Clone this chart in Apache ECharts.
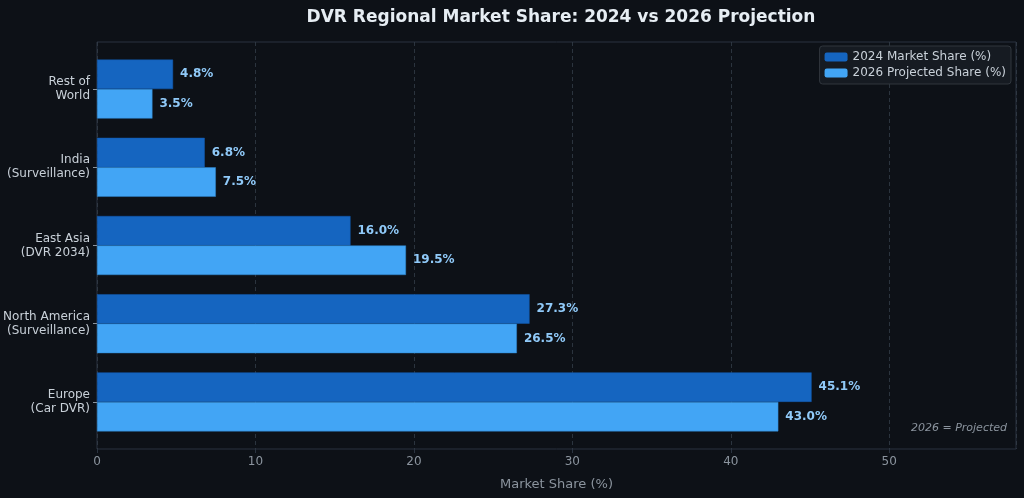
<!DOCTYPE html>
<html>
<head>
<meta charset="utf-8">
<script src="https://cdn.jsdelivr.net/npm/echarts@6/dist/echarts.min.js"></script>
<style>
  html, body { margin: 0; padding: 0; background: #0d1117; }
  #chart { width: 1024px; height: 498px; }
</style>
</head>
<body>
<div id="chart"></div>
<script>
// regions, bottom to top as drawn
var regions = ['Europe\n(Car DVR)', 'North America\n(Surveillance)', 'East Asia\n(DVR 2034)', 'India\n(Surveillance)', 'Rest of\nWorld'];
var share2024 = [45.1, 27.3, 16.0, 6.8, 4.8];
var share2026 = [43.0, 26.5, 19.5, 7.5, 3.5];
var xTicks = [0, 10, 20, 30, 40, 50];

var FONT = 'DejaVu Sans';
var chart = echarts.init(document.getElementById('chart'));

function valueLabel() {
    return {
        show: true,
        position: 'right',
        distance: 7,
        color: '#90caf9',
        fontFamily: FONT,
        fontSize: 12,
        fontWeight: 'bold',
        formatter: function (p) { return p.value.toFixed(1) + '%'; }
    };
}

var option = {
    backgroundColor: '#0d1117',
    textStyle: { fontFamily: FONT },
    title: {
        text: 'DVR Regional Market Share: 2024 vs 2026 Projection',
        left: 556, top: 4, textAlign: 'center',
        textStyle: { color: '#e6edf3', fontSize: 17, fontWeight: 'bold', fontFamily: FONT }
    },
    legend: {
        data: ['2024 Market Share (%)', '2026 Projected Share (%)'],
        orient: 'vertical',
        right: 13, top: 46,
        padding: [5, 5, 5, 5],
        itemGap: 4,
        itemWidth: 23, itemHeight: 9,
        itemStyle: { borderWidth: 0 },
        backgroundColor: '#161b22',
        borderColor: '#30363d', borderWidth: 1, borderRadius: 3,
        textStyle: { color: '#c9d1d9', fontSize: 12, fontFamily: FONT }
    },
    grid: [
        // outer frame (spines)
        { left: 97, right: 8, top: 42, bottom: 49, show: true, borderColor: '#2a3340', borderWidth: 1, backgroundColor: 'transparent' },
        // bar area, inset like matplotlib margins
        { left: 97, right: 8, top: 50, bottom: 57 }
    ],
    xAxis: [
        {
            gridIndex: 0, type: 'value', min: 0, max: 58, interval: 10,
            name: 'Market Share (%)', nameLocation: 'middle', nameGap: 29,
            nameTextStyle: { color: '#8b949e', fontSize: 13, fontFamily: FONT },
            axisLine: { show: false },
            axisTick: { show: true, length: 4, lineStyle: { color: '#2a3340' } },
            axisLabel: { color: '#8b949e', fontSize: 12, margin: 7, showMaxLabel: false, fontFamily: FONT },
            splitLine: { show: true, lineStyle: { color: '#343d49', type: [4, 3], width: 0.8 } }
        },
        {
            gridIndex: 1, type: 'value', min: 0, max: 58, interval: 10, show: false,
            splitLine: { show: false }
        }
    ],
    yAxis: [
        {
            gridIndex: 0, type: 'value', min: 0, max: 1, show: false, splitLine: { show: false }
        },
        {
            gridIndex: 1, type: 'category', data: regions,
            axisLine: { show: false },
            axisTick: { show: true, length: 4, alignWithLabel: true, lineStyle: { color: '#8b949e' } },
            axisLabel: { color: '#c9d1d9', fontSize: 12, margin: 7, lineHeight: 14, fontFamily: FONT }
        }
    ],
    series: [
        {
            name: '2024 Market Share (%)', type: 'bar',
            xAxisIndex: 1, yAxisIndex: 1,
            data: share2024, barWidth: 29.5, barGap: '0%',
            itemStyle: { color: '#1565c0', borderColor: '#135bb0', borderWidth: 0.5 },
            label: valueLabel()
        },
        {
            name: '2026 Projected Share (%)', type: 'bar',
            xAxisIndex: 1, yAxisIndex: 1,
            data: share2026, barWidth: 29.5, barGap: '0%',
            itemStyle: { color: '#42a5f5', borderColor: '#2f86cf', borderWidth: 0.5 },
            label: valueLabel()
        }
    ],
    graphic: [
        {
            type: 'text', right: 17, top: 423,
            style: { text: '2026 = Projected', fill: '#8b949e', font: 'italic 11px "DejaVu Sans"' }
        }
    ]
};
chart.setOption(option);
</script>
</body>
</html>
